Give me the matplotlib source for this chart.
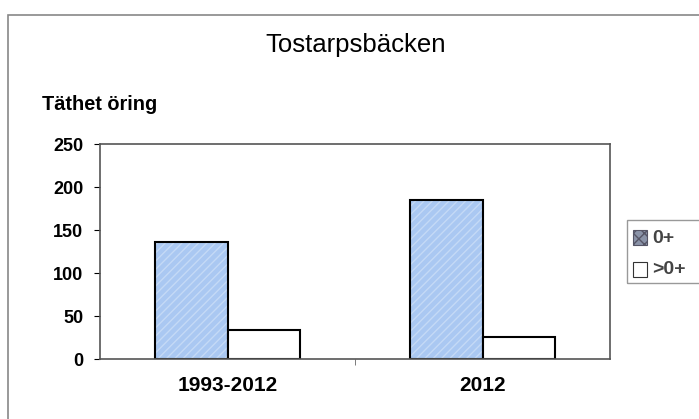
import matplotlib.pyplot as plt
import numpy as np
from matplotlib.patches import Rectangle

plt.rcParams['font.family'] = ['Liberation Sans', 'DejaVu Sans']

kategorier = ["1993-2012", "2012"]
arsungar = [136, 185]      # 0+
aldre = [34, 26]           # >0+
y_ticks = [0, 50, 100, 150, 200, 250]

fig = plt.figure(figsize=(6.99, 4.19), dpi=100)
fig.patches.append(Rectangle((8 / 699, -0.05), 1.0, 1 - 15 / 419 + 0.05,
                             transform=fig.transFigure, fill=False,
                             edgecolor='#888888', linewidth=1.2))

ax = fig.add_axes([100 / 699, 1 - 359 / 419, 510 / 699, 215 / 419])

x = np.arange(len(kategorier))
w = 0.286
ax.bar(x - w / 2, arsungar, w, color='#aac8f2', hatch='////',
       edgecolor='#c4d9f6', linewidth=0)
ax.bar(x - w / 2, arsungar, w, fill=False, edgecolor='black', linewidth=1.5)
ax.bar(x + w / 2, aldre, w, color='white', edgecolor='black', linewidth=1.5)

ax.set_xlim(-0.5, 1.5)
ax.set_ylim(0, 250)
ax.set_yticks(y_ticks)
ax.set_xticks(x)
ax.set_xticklabels(kategorier)
ax.set_xticks([0.5], minor=True)
ax.tick_params(axis='x', which='major', length=0, pad=12, labelsize=15)
ax.tick_params(axis='x', which='minor', length=4, direction='out', color='#666666')
ax.tick_params(axis='y', length=4, direction='out', labelsize=13, pad=8)
for lab in ax.get_xticklabels() + ax.get_yticklabels():
    lab.set_fontweight('bold')
for s in ax.spines.values():
    s.set_color('#555555')
    s.set_linewidth(1.2)

fig.text(356 / 699, 1 - 45 / 419, 'Tostarpsbäcken', ha='center', va='center',
         fontsize=18.5)
fig.text(42 / 699, 1 - 104 / 419, 'Täthet öring', ha='left', va='center',
         fontsize=14.4, fontweight='bold')

# legend
fig.patches.append(Rectangle((627 / 699, 1 - 283 / 419), 80 / 699, 63 / 419,
                             transform=fig.transFigure, fill=False,
                             edgecolor='#999999', linewidth=1))
fig.patches.append(Rectangle((633 / 699, 1 - 245 / 419), 14 / 699, 15 / 419,
                             transform=fig.transFigure, facecolor='#8a93a8',
                             hatch='xxx', edgecolor='#555566', linewidth=0.8))
fig.text(652 / 699, 1 - 238 / 419, '0+', ha='left', va='center',
         fontsize=14, fontweight='bold', color='#444444')
fig.patches.append(Rectangle((633 / 699, 1 - 277 / 419), 14 / 699, 15 / 419,
                             transform=fig.transFigure, facecolor='white',
                             edgecolor='#333333', linewidth=0.8))
fig.text(652 / 699, 1 - 269 / 419, '>0+', ha='left', va='center',
         fontsize=14, fontweight='bold', color='#444444')

fig.savefig('out.png', dpi=100)
